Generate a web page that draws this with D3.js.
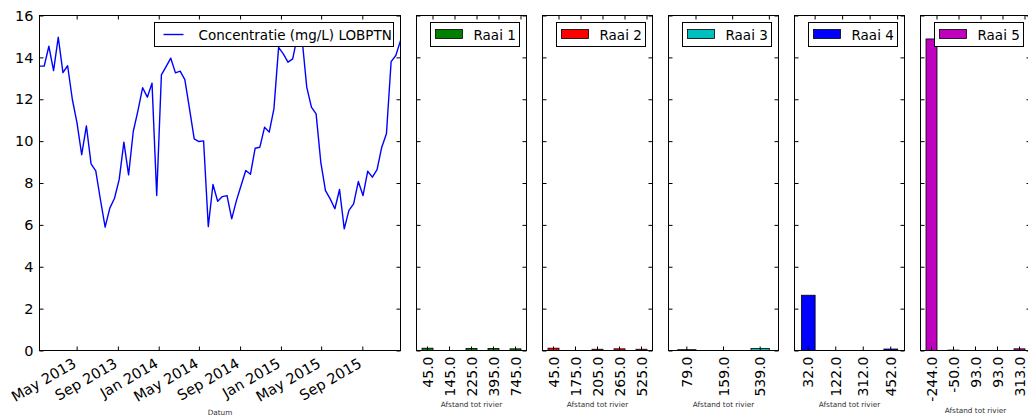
<!DOCTYPE html>
<html><head><meta charset="utf-8">
<script src="https://cdn.jsdelivr.net/npm/d3@7/dist/d3.min.js"></script>
<style>
body{margin:0;background:#fff}
text{font-family:"DejaVu Sans",sans-serif;fill:#000}
</style>
</head><body>
<svg id="c" width="1028" height="419"></svg>
<script>
// ---------------- DATA ----------------
const dates = [
"2013-01-10","2013-01-24","2013-02-07","2013-02-21","2013-03-07","2013-03-21","2013-04-04","2013-04-18",
"2013-05-02","2013-05-16","2013-05-30","2013-06-13","2013-06-27","2013-07-11","2013-07-25","2013-08-08",
"2013-08-22","2013-09-05","2013-09-19","2013-10-03","2013-10-17","2013-10-31","2013-11-14","2013-11-28",
"2013-12-12","2013-12-26",
"2014-01-09","2014-01-23","2014-02-06","2014-02-20","2014-03-06","2014-03-20","2014-04-03","2014-04-17",
"2014-05-01","2014-05-15","2014-05-29","2014-06-12","2014-06-26","2014-07-10","2014-07-24","2014-08-07",
"2014-08-21","2014-09-04","2014-09-18","2014-10-02","2014-10-16","2014-10-30","2014-11-13","2014-11-27",
"2014-12-11","2014-12-25",
"2015-01-08","2015-01-22","2015-02-05","2015-02-19","2015-03-05","2015-03-19","2015-04-02","2015-04-16",
"2015-04-30","2015-05-14","2015-05-28","2015-06-11","2015-06-25","2015-07-09","2015-07-23","2015-08-06",
"2015-08-20","2015-09-03","2015-09-17","2015-10-01","2015-10-15","2015-10-29","2015-11-12","2015-11-26",
"2015-12-10","2015-12-24"];
const concentratie = [
13.58,13.58,14.53,13.37,14.96,13.27,13.60,12.00,10.87,9.35,10.73,8.91,8.58,7.20,5.89,6.80,
7.27,8.17,9.95,8.39,10.46,11.46,12.55,12.10,12.77,7.40,
13.16,13.56,13.96,13.26,13.34,12.94,11.54,10.11,9.98,10.01,5.92,7.93,7.13,7.35,7.40,6.29,
7.16,7.88,8.60,8.42,9.66,9.71,10.66,10.43,11.54,14.48,
14.17,13.77,13.93,15.00,14.90,12.58,11.62,11.30,8.99,7.64,7.24,6.77,7.69,5.81,6.69,7.00,
8.07,7.40,8.56,8.28,8.64,9.71,10.35,13.80,14.09,14.80];
const lineLabel = "Concentratie (mg/L) LOBPTN";
const yTicks = [0,2,4,6,8,10,12,14,16];

const raaiNamen = ["Raai 1","Raai 2","Raai 3","Raai 4","Raai 5"];
const raai1Afstand = ["45.0","145.0","225.0","395.0","745.0"];
const raai1Waarde  = [0.11,0,0.10,0.10,0.08];
const raai2Afstand = ["45.0","175.0","205.0","265.0","525.0"];
const raai2Waarde  = [0.11,0,0.06,0.08,0.06];
const raai3Afstand = ["79.0","159.0","539.0"];
const raai3Waarde  = [0.04,0,0.10];
const raai4Afstand = ["32.0","122.0","312.0","452.0"];
const raai4Waarde  = [2.64,0,0,0.07];
const raai5Afstand = ["-244.0","-50.0","93.0","93.0","313.0"];
const raai5Waarde  = [14.88,0.02,0,0,0.08];
const raaiKleuren = ["#008000","#ff0000","#00bfbf","#0000ff","#bf00bf"];

// ---------------- LAYOUT ----------------
const svg = d3.select("#c");
const TOP = 15.5, BOTTOM = 350.5;
const MAIN_L = 39.5, MAIN_R = 400.5;
const PANEL_W = 110, PANEL_START = 416.5, PANEL_STEP = 126;
const TICK_FS = 14.5, LEG_FS = 13.5, LAB_FS = 7.3;

const y = d3.scaleLinear().domain([0,16]).range([BOTTOM, TOP]);

function styleAxis(g){
  g.select(".domain").remove();
  g.selectAll(".tick line").attr("stroke","#000").attr("stroke-width",1);
  g.attr("font-family",null).attr("font-size",null);
  g.selectAll("text").attr("font-size",TICK_FS).attr("fill","#000");
}

// ---------------- MAIN LINE CHART ----------------
const parse = d3.timeParse("%Y-%m-%d");
const pts = dates.map((d,i)=>({date:parse(d), v:concentratie[i]}));
const x = d3.scaleTime().domain(d3.extent(pts,d=>d.date)).range([MAIN_L, MAIN_R]);
const monthTicks = x.ticks(d3.timeMonth.every(4));

svg.append("path").datum(pts)
  .attr("fill","none").attr("stroke","#0000ff").attr("stroke-width",1.4)
  .attr("stroke-linejoin","round")
  .attr("d", d3.line().x(d=>x(d.date)).y(d=>y(d.v)));

svg.append("g").attr("transform",`translate(${MAIN_L},0)`)
  .call(d3.axisLeft(y).tickValues(yTicks).tickSizeInner(-4).tickSizeOuter(0).tickPadding(6).tickFormat(d3.format("d")))
  .call(styleAxis);
svg.append("g").attr("transform",`translate(${MAIN_R},0)`)
  .call(d3.axisRight(y).tickValues(yTicks).tickSizeInner(-4).tickSizeOuter(0).tickFormat(""))
  .call(styleAxis);
svg.append("g").attr("transform",`translate(0,${TOP})`)
  .call(d3.axisTop(x).tickValues(monthTicks).tickSizeInner(-4).tickSizeOuter(0).tickFormat(""))
  .call(styleAxis);
const xb = svg.append("g").attr("transform",`translate(0,${BOTTOM})`)
  .call(d3.axisBottom(x).tickValues(monthTicks).tickSizeInner(-4).tickSizeOuter(0).tickFormat(d3.timeFormat("%b %Y")))
  .call(styleAxis);
xb.selectAll("text").attr("y",null).attr("dy",null).attr("text-anchor","end")
  .attr("transform","translate(0,16) rotate(-30)");

svg.append("rect").attr("x",MAIN_L).attr("y",TOP).attr("width",MAIN_R-MAIN_L).attr("height",BOTTOM-TOP)
  .attr("fill","none").attr("stroke","#000").attr("stroke-width",1);

svg.append("text").attr("x",(MAIN_L+MAIN_R)/2).attr("y",415).attr("text-anchor","middle")
  .attr("font-size",LAB_FS).style("fill","#333").text("Datum");

// main legend
const mlR = MAIN_R - 7, mlW = 239;
const ml = svg.append("g");
ml.append("rect").attr("x",mlR-mlW).attr("y",22.5).attr("width",mlW).attr("height",24)
  .attr("fill","#fff").attr("stroke","#000").attr("stroke-width",1);
ml.append("line").attr("x1",mlR-mlW+9).attr("x2",mlR-mlW+29).attr("y1",34.5).attr("y2",34.5)
  .attr("stroke","#0000ff").attr("stroke-width",1.4);
ml.append("text").attr("x",mlR-mlW+44).attr("y",39.5).attr("font-size",LEG_FS).text(lineLabel);

// ---------------- BAR PANELS ----------------
const afstanden = [raai1Afstand,raai2Afstand,raai3Afstand,raai4Afstand,raai5Afstand];
const waarden = [raai1Waarde,raai2Waarde,raai3Waarde,raai4Waarde,raai5Waarde];
const labelY = [406.5,406.5,406.5,406.5,412.5];

raaiNamen.forEach((naam,p)=>{
  const L = PANEL_START + p*PANEL_STEP, R = L + PANEL_W;
  const cats = afstanden[p], vals = waarden[p];
  const idx = d3.range(cats.length);
  const xs = d3.scaleBand().domain(idx).range([L,R]).paddingInner(0.5).paddingOuter(0.25);
  const g = svg.append("g");

  g.selectAll("rect.bar").data(idx).join("rect").attr("class","bar")
    .attr("x",i=>xs(i)).attr("width",xs.bandwidth())
    .attr("y",i=>y(vals[i])).attr("height",i=>y(0)-y(vals[i]))
    .attr("fill",raaiKleuren[p]).attr("stroke","#000")
    .attr("stroke-width",i=>vals[i]>0?0.8:0);

  const half = xs.bandwidth()/2;
  g.append("g").attr("transform",`translate(${L},0)`)
    .call(d3.axisLeft(y).tickValues(yTicks).tickSizeInner(-4).tickSizeOuter(0).tickFormat(""))
    .call(styleAxis);
  g.append("g").attr("transform",`translate(${R},0)`)
    .call(d3.axisRight(y).tickValues(yTicks).tickSizeInner(-4).tickSizeOuter(0).tickFormat(""))
    .call(styleAxis);
  g.append("g").attr("transform",`translate(${half},${TOP})`)
    .call(d3.axisTop(xs).tickSizeInner(-4).tickSizeOuter(0).tickFormat(""))
    .call(styleAxis);
  const bx = g.append("g").attr("transform",`translate(0,${BOTTOM})`)
    .call(d3.axisBottom(xs).tickSizeInner(-4).tickSizeOuter(0).tickFormat(i=>cats[i]))
    .call(styleAxis);
  bx.selectAll("text").attr("y",null).attr("dy",null).attr("text-anchor","end")
    .attr("font-size",14)
    .attr("transform","translate(5,6) rotate(-90)");

  g.append("rect").attr("x",L).attr("y",TOP).attr("width",PANEL_W).attr("height",BOTTOM-TOP)
    .attr("fill","none").attr("stroke","#000").attr("stroke-width",1);

  g.append("text").attr("x",(L+R)/2).attr("y",labelY[p]).attr("text-anchor","middle")
    .attr("font-size",LAB_FS).style("fill","#333").text("Afstand tot rivier");

  // legend
  const lw = 89, lx = R - 7 - lw;
  g.append("rect").attr("x",lx).attr("y",22.5).attr("width",lw).attr("height",24)
    .attr("fill","#fff").attr("stroke","#000").attr("stroke-width",1);
  g.append("rect").attr("x",lx+5).attr("y",29.5).attr("width",27).attr("height",9)
    .attr("fill",raaiKleuren[p]).attr("stroke","#000").attr("stroke-width",0.8);
  g.append("text").attr("x",lx+43).attr("y",39.5).attr("font-size",LEG_FS).text(naam);
});
</script>
</body></html>
